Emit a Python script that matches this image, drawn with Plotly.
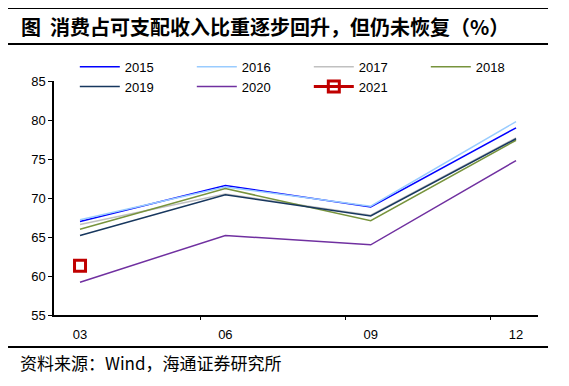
import plotly.graph_objects as go

categories = ["03", "06", "09", "12"]
s2015 = [67.0, 71.6, 68.85, 79.0]
s2016 = [67.2, 71.4, 68.95, 79.8]
s2017 = [66.6, 70.5, 67.8, 77.7]
s2018 = [66.0, 71.2, 67.1, 77.4]
s2019 = [65.2, 70.4, 67.7, 77.6]
s2020 = [59.2, 65.2, 64.0, 74.8]
s2021 = [61.3]

series = [
    ("2015", s2015, "#0000FF"),
    ("2016", s2016, "#99CCFF"),
    ("2017", s2017, "#C0C0C0"),
    ("2018", s2018, "#77933C"),
    ("2019", s2019, "#17375E"),
    ("2020", s2020, "#7030A0"),
]

xpos = list(range(len(categories)))
fig = go.Figure()
for name, vals, col in series:
    fig.add_trace(go.Scatter(x=xpos[:len(vals)], y=vals, name=name, mode="lines",
                             line=dict(color=col, width=1.5)))
fig.add_trace(go.Scatter(x=xpos[:len(s2021)], y=s2021, name="2021", mode="lines+markers",
                         line=dict(color="#C00000", width=3),
                         marker=dict(symbol="square-open", size=11, color="#C00000",
                                     line=dict(width=3, color="#C00000"))))
# invisible trace to drive secondary axis with boundary ticks
fig.add_trace(go.Scatter(x=[0], y=[None], xaxis="x2", showlegend=False, hoverinfo="skip"))

xr = [-0.179, 3.151]
font_tick = dict(family="Liberation Sans, Arial", size=13, color="#000000")
fig.update_layout(
    width=561, height=378,
    margin=dict(l=46, r=31, t=73, b=71),
    paper_bgcolor="white", plot_bgcolor="white",
    showlegend=True,
    xaxis=dict(range=xr, tickvals=xpos, ticktext=categories, ticks="outside", ticklen=7,
               tickcolor="rgba(0,0,0,0)", showline=True, linecolor="black", linewidth=1.5,
               showgrid=False, zeroline=False, tickfont=font_tick),
    xaxis2=dict(range=xr, overlaying="x", anchor="y", side="bottom",
                tickvals=[0.826, 1.826, 2.826], ticks="outside", ticklen=4,
                tickcolor="black", tickwidth=1.2, showticklabels=False,
                showline=False, showgrid=False, zeroline=False),
    yaxis=dict(range=[55, 85], dtick=5, tick0=55, ticks="outside", ticklen=4,
               tickcolor="black", showline=True, linecolor="black", linewidth=1.5,
               showgrid=False, zeroline=False, tickfont=font_tick),
    legend=dict(orientation="h", x=0.043, y=1.125, xanchor="left", yanchor="top",
                entrywidth=62, entrywidthmode="pixels", itemwidth=40,
                font=dict(family="Liberation Sans, Arial", size=13, color="#000000"),
                bgcolor="rgba(0,0,0,0)", tracegroupgap=0),
)

fig.add_annotation(text="<b>图  消费占可支配收入比重逐步回升，但仍未恢复（%）</b>",
                   xref="paper", yref="paper", x=-0.072, y=1.2308,
                   xanchor="left", yanchor="middle", showarrow=False,
                   font=dict(family="Noto Sans CJK SC", size=20, color="#000000"))
fig.add_annotation(text="资料来源：Wind，海通证券研究所",
                   xref="paper", yref="paper", x=-0.074, y=-0.205,
                   xanchor="left", yanchor="middle", showarrow=False,
                   font=dict(family="Noto Sans CJK SC", size=17, color="#000000"))
for yy, w in [(1.312, 2), (1.158, 2), (-0.1368, 2)]:
    fig.add_shape(type="line", xref="paper", yref="paper", x0=-0.095, x1=1.0207,
                  y0=yy, y1=yy, line=dict(color="black", width=w))

fig.write_html("out.html")
